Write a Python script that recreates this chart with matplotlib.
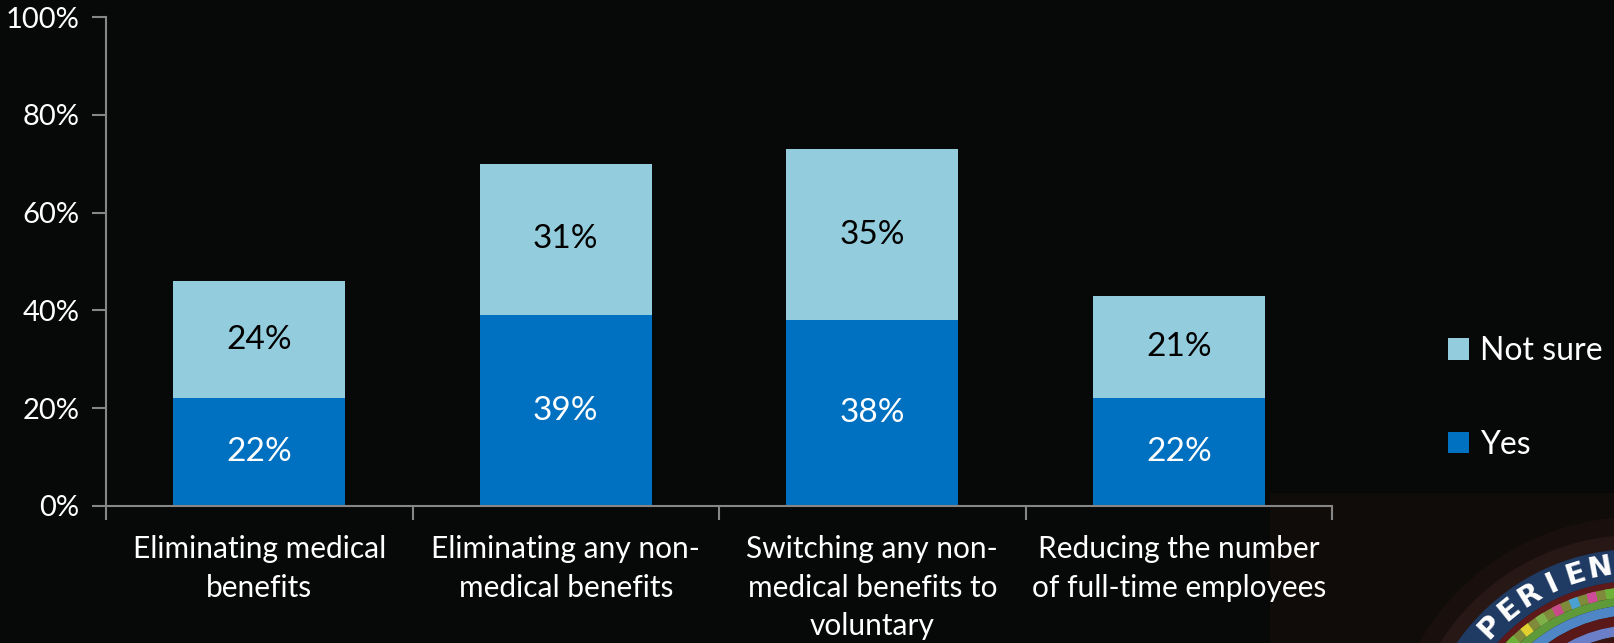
import matplotlib
matplotlib.use("Agg")
import matplotlib.pyplot as plt
import numpy as np
from matplotlib.patches import Rectangle, Wedge, Circle

categories = ["Eliminating medical\nbenefits",
              "Eliminating any non-\nmedical benefits",
              "Switching any non-\nmedical benefits to\nvoluntary",
              "Reducing the number\nof full-time employees"]
yes = [22, 39, 38, 22]
not_sure = [24, 31, 35, 21]
yticks = [0, 20, 40, 60, 80, 100]
ytick_labels = ["0%", "20%", "40%", "60%", "80%", "100%"]

BG = "#070808"
YES_C = "#0070C0"
NS_C = "#93CDDD"
AX_C = "#868686"
FONT = ["Lato", "DejaVu Sans"]
plt.rcParams["font.family"] = FONT

W, H = 1614, 643
fig = plt.figure(figsize=(W / 100, H / 100), dpi=100, facecolor=BG)

# decorative logo backdrop, bottom-right
bg_ax = fig.add_axes([0, 0, 1, 1], zorder=0)
bg_ax.set_xlim(0, W)
bg_ax.set_ylim(H, 0)
bg_ax.axis("off")
bg_ax.add_patch(Rectangle((1270, 493), 360, 160, facecolor="#100c0a", edgecolor="none"))
cx, cy = 1636, 767
bg_ax.add_patch(Circle((cx, cy), 250, facecolor="#24140f", edgecolor="none", alpha=0.45))
bg_ax.add_patch(Circle((cx, cy), 232, facecolor="#3a2420", edgecolor="none", alpha=0.45))
rings = [(218, 32, "#1f3a63"), (186, 6, "#5e1a1a"), (180, 10, "#7f8a3a"),
         (170, 8, "#5f9a3a"), (162, 10, "#4f86c6"), (152, 10, "#5a1818"),
         (142, 10, "#6a7fc8"), (132, 132, "#3a1410")]
for r, w, col in rings:
    bg_ax.add_patch(Wedge((cx, cy), r, 180, 360, width=w, facecolor=col, edgecolor="none"))
seg_cols = ["#d04a9a", "#6fb23a", "#e0d030", "#7fb04a", "#c84a8a", "#4aa0d0"]
for k in range(30):
    t1 = 182 + k * 6
    bg_ax.add_patch(Wedge((cx, cy), 180, t1, t1 + 3, width=10,
                          facecolor=seg_cols[k % len(seg_cols)], edgecolor="none"))
for j, ch in enumerate("PERIEN"):
    ang = np.deg2rad(-136.2 + j * 7.2)
    r = 202
    xx = cx + r * np.cos(ang)
    yy = cy + r * np.sin(ang)
    rot = -np.rad2deg(ang) - 90
    bg_ax.text(xx, yy, ch, color="white", fontsize=21, fontweight="bold",
               family="DejaVu Sans", ha="center", va="center", rotation=rot)

ax = fig.add_axes([106 / W, 137 / H, (1332 - 106) / W, (626 - 137) / H], zorder=1)
ax.set_facecolor("none")
x = np.arange(len(categories))
bw = 0.56
ax.bar(x, yes, bw, color=YES_C, label="Yes", zorder=2)
ax.bar(x, not_sure, bw, bottom=yes, color=NS_C, label="Not sure", zorder=2)

for i in range(len(categories)):
    ax.text(x[i], yes[i] / 2, f"{yes[i]}%", ha="center", va="center",
            color="white", fontsize=24)
    ax.text(x[i], yes[i] + not_sure[i] / 2, f"{not_sure[i]}%", ha="center", va="center",
            color="black", fontsize=24)

ax.set_xlim(-0.5, len(categories) - 0.5)
ax.set_ylim(0, 100)
ax.set_yticks(yticks)
ax.set_yticklabels(ytick_labels, color="white", fontsize=21)
ax.set_xticks(x)
ax.set_xticklabels(categories, color="white", fontsize=21.5, linespacing=1.46, va="top")
ax.set_xticks(np.arange(len(categories) + 1) - 0.5, minor=True)
ax.tick_params(axis="x", which="major", length=0, pad=21)
ax.tick_params(axis="x", which="minor", length=10, color=AX_C, width=1.5, direction="out")
ax.tick_params(axis="y", length=10, color=AX_C, width=1.5, pad=9)
for s in ["top", "right"]:
    ax.spines[s].set_visible(False)
for s in ["left", "bottom"]:
    ax.spines[s].set_color(AX_C)
    ax.spines[s].set_linewidth(1.5)

handles, labels = ax.get_legend_handles_labels()
leg = fig.legend(handles[::-1], labels[::-1], loc="center left",
                 bbox_to_anchor=(1448 / W, 1 - 398 / H), frameon=False,
                 borderpad=0, borderaxespad=0,
                 fontsize=23, handlelength=0.66, handleheight=0.66,
                 handletextpad=0.35, labelspacing=2.0)
for t in leg.get_texts():
    t.set_color("white")

fig.savefig("out.png", dpi=100, facecolor=BG)
